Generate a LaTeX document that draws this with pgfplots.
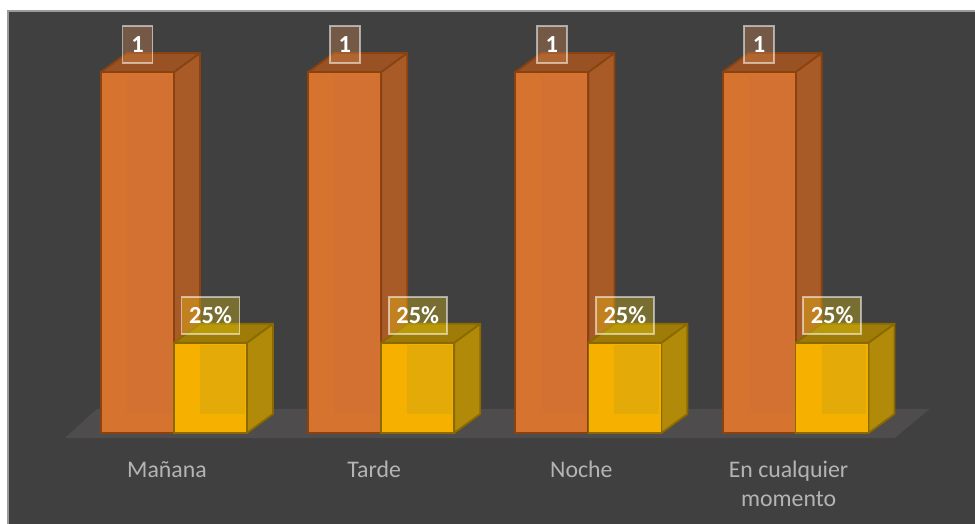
\documentclass[border=0pt]{standalone}
\usepackage{fontspec}
\setmainfont{Carlito}
\usepackage{pgfplots}
\pgfplotsset{compat=1.18}

\definecolor{panel}{HTML}{404040}
\definecolor{panelline}{HTML}{9A9A9A}
\definecolor{floorc}{HTML}{4E4C4C}
\definecolor{ticktext}{HTML}{B4B4B4}
\definecolor{ofront}{HTML}{D6732E}
\definecolor{oinner}{HTML}{D27132}
\definecolor{oside}{HTML}{A95B27}
\definecolor{oline}{HTML}{8A4210}
\definecolor{olabel}{HTML}{EA9654}
\definecolor{yfront}{HTML}{F5B000}
\definecolor{yinner}{HTML}{E4AA08}
\definecolor{yside}{HTML}{B08A08}
\definecolor{yline}{HTML}{8A6A00}
\definecolor{ylabel}{HTML}{FAD911}

% side and top face of a bar: x left, x right, x left back, x right back, height, height back
\newcommand{\faces}[8]{%
  \addplot[fill=#7, draw=#8, line width=1.8pt, line join=round] coordinates {(#2,0) (#4,0.0526) (#4,#6) (#2,#5)} --cycle;
  \addplot[fill=#7!90!black, draw=#8, line width=1.8pt, line join=round] coordinates {(#1,#5) (#2,#5) (#4,#6) (#3,#6)} --cycle;
}

\begin{document}
\begin{tikzpicture}
\useasboundingbox (0,0) rectangle (975pt,524pt);
% panel
\fill[white] (0,0) rectangle (975pt,524pt);
\fill[panelline] (7pt,0pt) rectangle (975pt,514pt);
\fill[panel] (9pt,0pt) rectangle (975pt,512pt);
\begin{axis}[
    at={(0,0)}, anchor=south west,
    scale only axis,
    width=975pt, height=524pt,
    xmin=-0.8398, xmax=3.8658,
    ymin=-0.2521, ymax=1.1994,
    axis line style={draw=none},
    tick style={draw=none},
    ytick=\empty,
    xtick={-0.034,0.966,1.966,2.966},
    xticklabels={Mañana,Tarde,Noche,{En cualquier\\momento}},
    x tick label style={
        font=\fontsize{23.8}{29}\selectfont, text=ticktext, align=center,
        anchor=north, yshift=63pt, inner sep=0pt},
    clip=false,
    lbl/.style 2 args={
        nodes near coords={#1},
        every node near coord/.style={
            anchor=south, yshift=8pt, inner sep=0pt,
            font=\fontsize{24.5}{24.5}\bfseries\selectfont,
            text=white, text opacity=1,
            fill=#2, fill opacity=0.3,
            draw=white, draw opacity=0.55, line width=1.6pt,
            minimum height=37pt},
    },
]
% floor
\addplot[fill=floorc, draw=none] coordinates {(-0.5270,-0.0139) (3.4788,-0.0139) (3.6477,0.0665) (-0.3726,0.0665)} --cycle;

% orange bars
\faces{-0.352}{0}{-0.2265}{0.1255}{1}{1.0526}{oside}{oline}
\faces{0.648}{1}{0.7735}{1.1255}{1}{1.0526}{oside}{oline}
\faces{1.648}{2}{1.7735}{2.1255}{1}{1.0526}{oside}{oline}
\faces{2.648}{3}{2.7735}{3.1255}{1}{1.0526}{oside}{oline}
\addplot[ybar, bar width=0.352, bar shift=-0.176, fill=ofront, draw=oline, line width=2pt, lbl={1}{olabel},
    every node near coord/.append style={minimum width=30pt, xshift=-36.5pt}]
    coordinates {(0,1) (1,1) (2,1) (3,1)};
\addplot[fill=oinner, draw=none] coordinates {(-0.2265,0.0526) (-0.01,0.0526) (-0.01,0.99) (-0.2265,0.99)} --cycle;
\addplot[fill=oinner, draw=none] coordinates {(0.7735,0.0526) (0.99,0.0526) (0.99,0.99) (0.7735,0.99)} --cycle;
\addplot[fill=oinner, draw=none] coordinates {(1.7735,0.0526) (1.99,0.0526) (1.99,0.99) (1.7735,0.99)} --cycle;
\addplot[fill=oinner, draw=none] coordinates {(2.7735,0.0526) (2.99,0.0526) (2.99,0.99) (2.7735,0.99)} --cycle;

% yellow bars
\faces{0}{0.352}{0.1255}{0.4775}{0.25}{0.3026}{yside}{yline}
\faces{1}{1.352}{1.1255}{1.4775}{0.25}{0.3026}{yside}{yline}
\faces{2}{2.352}{2.1255}{2.4775}{0.25}{0.3026}{yside}{yline}
\faces{3}{3.352}{3.1255}{3.4775}{0.25}{0.3026}{yside}{yline}
\addplot[ybar, bar width=0.352, bar shift=0.176, fill=yfront, draw=yline, line width=1.6pt, lbl={25\%}{ylabel},
    every node near coord/.append style={minimum width=58pt, xshift=36.5pt}]
    coordinates {(0,0.25) (1,0.25) (2,0.25) (3,0.25)};
\addplot[fill=yinner, draw=none] coordinates {(0.1255,0.0526) (0.342,0.0526) (0.342,0.243) (0.1255,0.243)} --cycle;
\addplot[fill=yinner, draw=none] coordinates {(1.1255,0.0526) (1.342,0.0526) (1.342,0.243) (1.1255,0.243)} --cycle;
\addplot[fill=yinner, draw=none] coordinates {(2.1255,0.0526) (2.342,0.0526) (2.342,0.243) (2.1255,0.243)} --cycle;
\addplot[fill=yinner, draw=none] coordinates {(3.1255,0.0526) (3.342,0.0526) (3.342,0.243) (3.1255,0.243)} --cycle;
\end{axis}
\end{tikzpicture}
\end{document}
